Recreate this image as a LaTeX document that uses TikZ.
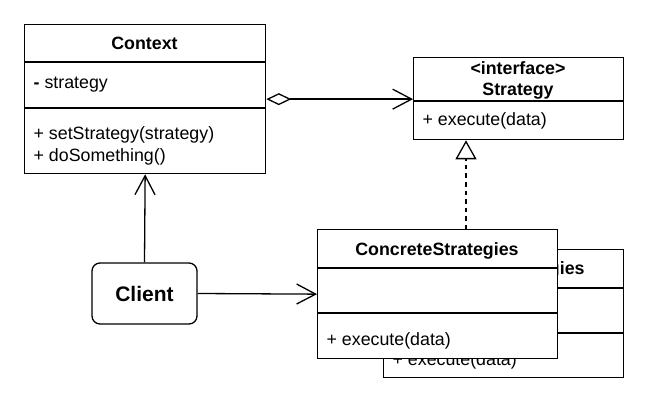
\documentclass[tikz,border=0pt]{standalone}
\usepackage{fontspec}
\setmainfont{Liberation Sans}
\usetikzlibrary{arrows.meta}

\begin{document}
\begin{tikzpicture}[x=1pt,y=-1pt,line width=1.3pt,
  classe/.style={draw,fill=white,anchor=north west,inner sep=0pt},
  txt/.style={font=\fontsize{17.8}{21}\selectfont,inner sep=0pt,anchor=base},
  gauche/.style={txt,anchor=base west},
  titre/.style={txt,font=\fontsize{17.8}{21}\selectfont\bfseries},
  fleche/.style={-{Straight Barb[length=19pt,width=20pt]}},
  agreg/.style={{Diamond[open,length=25pt,width=12pt]}-{Straight Barb[length=19pt,width=20pt]}},
  realise/.style={dash pattern=on 4.5pt off 4pt,-{Triangle[open,length=19pt,width=21pt]}}]
\useasboundingbox (0,0) rectangle (647,406);
% Patron Strategie : classes et relations
\node[classe,minimum width=241pt,minimum height=149pt] (context) at (24,24) {};
\draw (24,62) -- (265,62);
\draw (24,108) -- (265,108);
\node[titre] (ctitre) at (144.5,50) {Context};
\node[gauche] (cattr) at (33,89) {\textbf{-} strategy};
\node[gauche] (cset) at (33,140) {+ setStrategy(strategy)};
\node[gauche] (cdo) at (33,161) {+ doSomething()};
\node[classe,minimum width=210pt,minimum height=82pt] (strategy) at (413,57) {};
\draw (413,101) -- (623,101);
\node[titre] (sinter) at (518,75) {<interface>};
\node[titre] (stitre) at (518,96) {Strategy};
\node[gauche] (sexec) at (422,126) {+ execute(data)};
\node[classe,minimum width=240pt,minimum height=128pt] (concrete2) at (383,249) {};
\node[titre] (c2titre) at (503,274) {ConcreteStrategies};
\draw (383,288) -- (623,288);
\draw (383,333) -- (623,333);
\node[gauche] (c2exec) at (392,365.5) {+ execute(data)};
\node[classe,minimum width=240pt,minimum height=129pt] (concrete) at (317,229) {};
\draw (317,268) -- (557,268);
\draw (317,313) -- (557,313);
\node[titre] (cctitre) at (437,255) {ConcreteStrategies};
\node[gauche] (ccexec) at (326,345.5) {+ execute(data)};
\node[draw,rounded corners=8pt,minimum width=105pt,minimum height=61pt,inner sep=0pt,
  font=\fontsize{21}{25}\selectfont\bfseries] (client) at (144.5,293.5) {Client};
\coordinate (impl) at (466,229);
\draw[agreg] (context.east) -- (context.east -| strategy.west);
\draw[realise] (impl) -- (impl |- strategy.south);
\draw[fleche] (client.north) -- (context.south);
\draw[fleche] (client.east) -- (concrete.west);
\end{tikzpicture}
\end{document}
